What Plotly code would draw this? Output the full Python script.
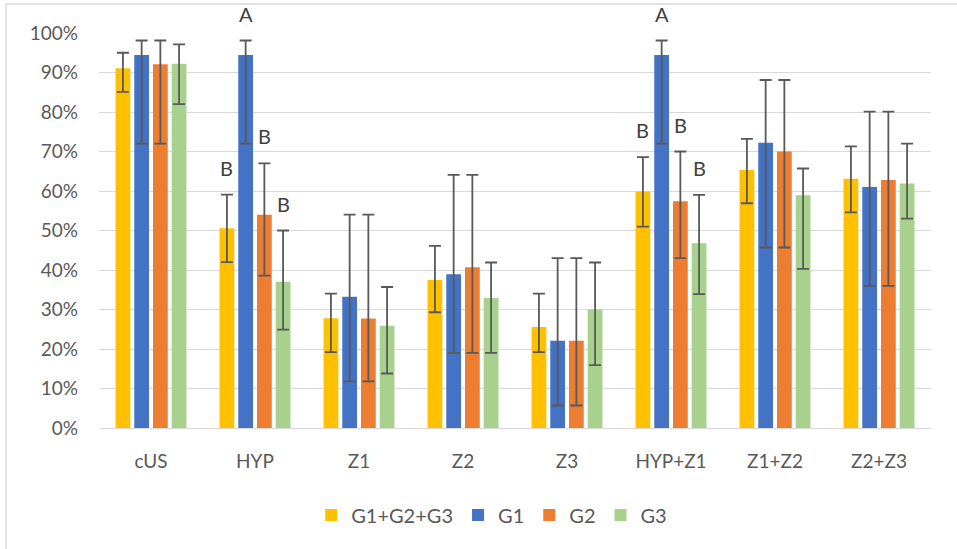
import plotly.graph_objects as go

categories = ["cUS", "HYP", "Z1", "Z2", "Z3", "HYP+Z1", "Z1+Z2", "Z2+Z3"]
series_names = ["G1+G2+G3", "G1", "G2", "G3"]

val_all = [0.911, 0.506, 0.278, 0.375, 0.256, 0.599, 0.653, 0.631]
hi_all = [0.950, 0.591, 0.340, 0.461, 0.340, 0.686, 0.732, 0.713]
lo_all = [0.851, 0.420, 0.192, 0.293, 0.192, 0.510, 0.569, 0.546]

val_g1 = [0.944, 0.944, 0.332, 0.389, 0.221, 0.944, 0.722, 0.610]
hi_g1 = [0.981, 0.981, 0.540, 0.641, 0.430, 0.981, 0.881, 0.801]
lo_g1 = [0.720, 0.720, 0.118, 0.190, 0.057, 0.720, 0.457, 0.360]

val_g2 = [0.921, 0.540, 0.277, 0.407, 0.221, 0.574, 0.700, 0.628]
hi_g2 = [0.981, 0.670, 0.540, 0.641, 0.430, 0.700, 0.881, 0.801]
lo_g2 = [0.720, 0.386, 0.118, 0.190, 0.057, 0.430, 0.457, 0.360]

val_g3 = [0.922, 0.370, 0.259, 0.329, 0.300, 0.468, 0.589, 0.619]
hi_g3 = [0.971, 0.500, 0.357, 0.419, 0.419, 0.590, 0.657, 0.720]
lo_g3 = [0.820, 0.249, 0.138, 0.190, 0.159, 0.339, 0.403, 0.530]

letters_all = ["", "B", "", "", "", "B", "", ""]
letters_g1 = ["", "A", "", "", "", "A", "", ""]
letters_g2 = ["", "B", "", "", "", "B", "", ""]
letters_g3 = ["", "B", "", "", "", "B", "", ""]

colors = ["#FFC000", "#4472C4", "#ED7D31", "#A9D18E"]
FONT = "Lato"
TXT = "#595959"

vals = [val_all, val_g1, val_g2, val_g3]
his = [hi_all, hi_g1, hi_g2, hi_g3]
los = [lo_all, lo_g1, lo_g2, lo_g3]
letters = [letters_all, letters_g1, letters_g2, letters_g3]

BARGAP = 0.28
BARGROUPGAP = 0.21

fig = go.Figure()
for name, v, h, l, c in zip(series_names, vals, his, los, colors):
    fig.add_trace(go.Bar(
        x=categories, y=v, name=name, marker=dict(color=c, line=dict(width=0)),
        error_y=dict(type="data", symmetric=False,
                     array=[hh - vv for hh, vv in zip(h, v)],
                     arrayminus=[vv - ll for vv, ll in zip(v, l)],
                     color="#595959", thickness=1.8, width=6),
    ))

n = len(series_names)
slot = (1 - BARGAP) / n
annotations = []
for i, (lets, h) in enumerate(zip(letters, his)):
    for j, t in enumerate(lets):
        if t:
            annotations.append(dict(
                x=j + (i - (n - 1) / 2) * slot, y=h[j], xref="x", yref="y",
                text=t, showarrow=False, yanchor="middle", yshift=27,
                font=dict(family=FONT, size=20, color="#404040"),
            ))

# outer chart border
border = [dict(type="rect", xref="paper", yref="paper",
               x0=(6 - 99) / 832, x1=(965 - 99) / 832,
               y0=(428 - 560) / 395, y1=(428 - 4) / 395,
               line=dict(color="#D9D9D9", width=1.3), fillcolor="rgba(0,0,0,0)",
               layer="below")]

fig.update_layout(
    width=957, height=549,
    margin=dict(l=99, r=26, t=33, b=121, autoexpand=False),
    paper_bgcolor="white", plot_bgcolor="white",
    barmode="group", bargap=BARGAP, bargroupgap=BARGROUPGAP,
    font=dict(family=FONT, size=19, color=TXT),
    xaxis=dict(showline=True, linecolor="#D9D9D9", linewidth=1.3, ticks="",
               tickfont=dict(size=19, color=TXT), ticklabelstandoff=16,
               automargin=False),
    yaxis=dict(range=[0, 1], dtick=0.1, tickformat=".0%", showgrid=True,
               gridcolor="#D9D9D9", gridwidth=1.3, zeroline=False, ticks="",
               tickfont=dict(size=19, color=TXT), ticklabelstandoff=20,
               automargin=False),
    legend=dict(orientation="h", x=0.472, xanchor="center", y=(428 - 515) / 395,
                yanchor="middle", font=dict(size=20, color=TXT), itemwidth=30,
                traceorder="normal"),
    annotations=annotations,
    shapes=border,
)

fig.write_html("out.html", config={"displayModeBar": False},
               post_script="document.body.style.margin='0';document.body.style.overflow='hidden';")
